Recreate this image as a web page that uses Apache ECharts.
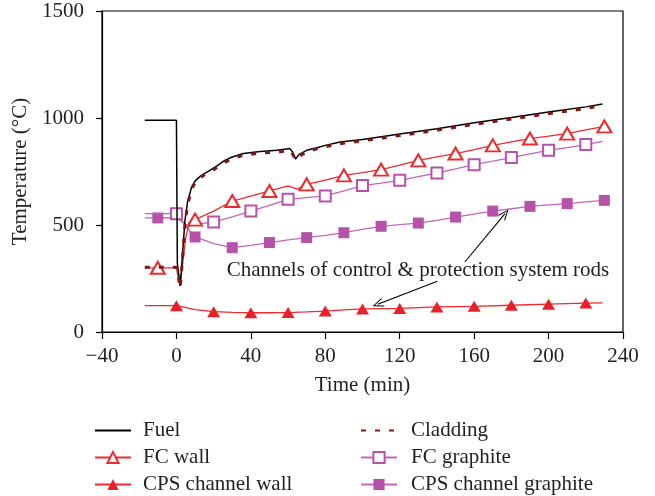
<!DOCTYPE html>
<html>
<head>
<meta charset="utf-8">
<script src="https://cdn.jsdelivr.net/npm/echarts@6/dist/echarts.min.js"></script>
<style>
  html, body { margin: 0; padding: 0; background: #fff; }
  #chart { width: 655px; height: 496px; }
</style>
</head>
<body>
<div id="chart"></div>
<script>
// values (time in min, temperature in °C)
const fuelTime = [-17, 0, 0.5, 2, 3, 4.6, 6, 8.2, 10, 12.7, 15, 18, 22, 26, 30, 36, 45, 54, 61, 62.5, 64, 66, 70, 75, 80, 88, 100, 120, 140, 160, 180, 200, 220, 229];
const fuelTemp = [990, 990, 320, 215, 330, 522, 610, 678, 705, 727, 740, 755, 778, 802, 818, 834, 843, 849, 857, 840, 808, 830, 849, 860, 872, 888, 900, 925, 950, 978, 1002, 1028, 1052, 1065];

const claddingTime = [-17, 0, 1, 2, 3, 4.6, 6, 8.2, 10, 12.7, 15, 18, 22, 26, 30, 36, 45, 54, 61, 62.5, 64, 66, 70, 75, 80, 88, 100, 120, 140, 160, 180, 200, 220, 228];
const claddingTemp = [302, 302, 260, 205, 310, 505, 595, 668, 698, 720, 735, 745, 770, 792, 810, 826, 836, 840, 848, 830, 805, 822, 842, 855, 866, 880, 893, 918, 943, 970, 995, 1020, 1044, 1057];

const fcWallTime = [-17, -10, 0, 1, 2, 3.5, 5, 7, 10, 20, 30, 40, 50, 60, 65, 70, 80, 90, 100, 110, 120, 130, 140, 150, 160, 170, 180, 190, 200, 210, 220, 230];
const fcWallTemp = [300, 300, 300, 250, 215, 330, 440, 515, 525, 565, 612, 635, 659, 683, 668, 690, 710, 732, 745, 759, 780, 802, 818, 834, 852, 872, 888, 904, 915, 927, 945, 961];
const fcWallMarks = [-10, 10, 30, 50, 70, 90, 110, 130, 150, 170, 190, 210, 230];

const cpsWallTime = [-17, 0, 10, 20, 30, 40, 50, 60, 70, 80, 90, 100, 120, 140, 160, 180, 200, 220, 229];
const cpsWallTemp = [123, 123, 105, 95, 92, 90, 90, 91, 94, 98, 103, 108, 110, 117, 120, 125, 130, 135, 136];
const cpsWallMarks = [0, 20, 40, 60, 80, 100, 120, 140, 160, 180, 200, 220];

const fcGraphiteTime = [-17, 0, 3, 6, 12, 20, 30, 40, 50, 60, 70, 80, 90, 100, 110, 120, 130, 140, 150, 160, 170, 180, 190, 200, 210, 220, 229];
const fcGraphiteTemp = [553, 553, 520, 495, 505, 514, 538, 565, 592, 620, 628, 636, 660, 684, 696, 709, 726, 743, 762, 782, 798, 815, 832, 849, 862, 876, 891];
const fcGraphiteMarks = [0, 20, 40, 60, 80, 100, 120, 140, 160, 180, 200, 220];

const cpsGraphiteTime = [-17, -10, 0, 3, 6, 10, 20, 30, 40, 50, 60, 70, 80, 90, 100, 110, 120, 130, 140, 150, 160, 170, 180, 190, 200, 210, 220, 230];
const cpsGraphiteTemp = [533, 533, 535, 515, 485, 444, 413, 394, 405, 418, 430, 441, 452, 464, 480, 494, 502, 509, 522, 537, 551, 565, 576, 587, 594, 600, 608, 615];
const cpsGraphiteMarks = [-10, 10, 30, 50, 70, 90, 110, 130, 150, 170, 190, 210, 230];

// annotation: label anchor and the two arrows [from, to]
const noteText = 'Channels of control & protection system rods';
const noteAt = [27, 288];
const arrows = [
  [[155, 327], [176.6, 553]],
  [[140.2, 237], [108.2, 130]]
];

const FONT = 'Liberation Serif';
const FS = 21;
const INK = '#231f20';
const RED = '#ee2a2e';
const PURPLE = '#b652aa';

function buildData(times, temps, marks) {
  return times.map((t, i) => {
    if (marks && marks.indexOf(t) === -1) {
      return { value: [t, temps[i]], symbol: 'none' };
    }
    return { value: [t, temps[i]] };
  });
}

const chart = echarts.init(document.getElementById('chart'));

const textStyle = { fontFamily: FONT, fontSize: FS, color: INK };

function legendBlock(left, names, gap) {
  return {
    left: left, top: 420, orient: 'vertical', padding: 0,
    itemWidth: 36, itemHeight: 14, itemGap: 6,
    textStyle: { fontFamily: FONT, fontSize: FS, color: INK, lineHeight: 20, padding: [0, 0, 0, gap] },
    selectedMode: false,
    data: names
  };
}

chart.setOption({
  animation: false,
  textStyle: textStyle,
  grid: { left: 102, right: 32, top: 11, bottom: 164, show: true, borderColor: '#000', borderWidth: 1.2 },
  legend: [
    legendBlock(94, ['Fuel', 'FC wall', 'CPS channel wall'], 7),
    legendBlock(360, ['Cladding', 'FC graphite', 'CPS channel graphite'], 9)
  ],
  xAxis: {
    type: 'value', min: -40, max: 240, interval: 40,
    name: 'Time (min)', nameLocation: 'middle', nameGap: 43,
    nameTextStyle: textStyle,
    axisLine: { onZero: false, lineStyle: { color: '#000', width: 1.2 } },
    axisTick: { length: 7, lineStyle: { color: '#000', width: 1.2 } },
    axisLabel: {
      margin: 14, fontFamily: FONT, fontSize: FS, color: INK,
      formatter: v => (v < 0 ? '\u2212' + Math.abs(v) : String(v))
    },
    splitLine: { show: false }
  },
  yAxis: {
    type: 'value', min: 0, max: 1500, interval: 500,
    name: 'Temperature (°C)', nameLocation: 'middle', nameGap: 69,
    nameTextStyle: textStyle,
    axisLine: { show: true, onZero: false, lineStyle: { color: '#000', width: 1.2 } },
    axisTick: { show: true, length: 6, lineStyle: { color: '#000', width: 1.2 } },
    axisLabel: { margin: 18, fontFamily: FONT, fontSize: FS, color: INK, formatter: v => String(v) },
    splitLine: { show: false }
  },
  series: [
    {
      name: 'CPS channel graphite', type: 'line', symbol: 'rect', symbolSize: 11, showAllSymbol: true,
      lineStyle: { color: '#c466b8', width: 1.3 }, itemStyle: { color: PURPLE },
      data: buildData(cpsGraphiteTime, cpsGraphiteTemp, cpsGraphiteMarks),
      silent: true, z: 2,
      markLine: {
        silent: true, animation: false,
        label: { show: false },
        lineStyle: { color: '#000', width: 1.1, type: 'solid' },
        symbolSize: [9, 11],
        data: arrows.map(a => [
          { coord: a[0], symbol: 'none' },
          { coord: a[1], symbol: 'path://M5,0 L10,10 L8.8,10 L5,2.2 L1.2,10 L0,10 Z' }
        ])
      }
    },
    {
      name: 'FC graphite', type: 'line', symbol: 'emptyRect', symbolSize: 11, showAllSymbol: true,
      lineStyle: { color: '#c466b8', width: 1.3 }, itemStyle: { color: PURPLE, borderWidth: 1.4 },
      data: buildData(fcGraphiteTime, fcGraphiteTemp, fcGraphiteMarks),
      silent: true, z: 3
    },
    {
      name: 'CPS channel wall', type: 'line', symbol: 'triangle', symbolSize: [13, 11], showAllSymbol: true,
      lineStyle: { color: RED, width: 1.3 }, itemStyle: { color: '#e8202a' },
      data: buildData(cpsWallTime, cpsWallTemp, cpsWallMarks),
      silent: true, z: 4
    },
    {
      name: 'FC wall', type: 'line', symbol: 'emptyTriangle', symbolSize: [14, 12], showAllSymbol: true,
      lineStyle: { color: RED, width: 1.3 }, itemStyle: { color: RED, borderWidth: 1.4 },
      data: buildData(fcWallTime, fcWallTemp, fcWallMarks),
      silent: true, z: 5
    },
    {
      name: 'Fuel', type: 'line', symbol: 'circle', showSymbol: false,
      lineStyle: { color: '#000', width: 1.5 }, itemStyle: { color: 'rgba(0,0,0,0)' },
      data: buildData(fuelTime, fuelTemp),
      silent: true, z: 6
    },
    {
      name: 'Cladding', type: 'line', symbol: 'circle', showSymbol: false,
      lineStyle: { color: '#7d1818', width: 3, type: [5, 9] }, itemStyle: { color: 'rgba(0,0,0,0)' },
      data: buildData(claddingTime, claddingTemp),
      silent: true, z: 7
    }
  ]
});

const notePx = chart.convertToPixel({ gridIndex: 0 }, noteAt);
chart.setOption({
  graphic: [{
    type: 'text', x: notePx[0], y: notePx[1], silent: true, z: 20,
    style: { text: noteText, fontFamily: FONT, fontSize: FS, fill: INK, verticalAlign: 'middle', align: 'left' }
  }]
});
</script>
</body>
</html>
